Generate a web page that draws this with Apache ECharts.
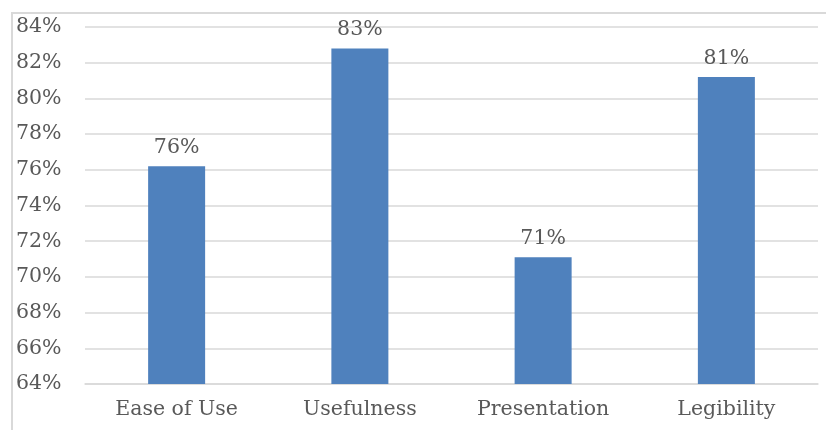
<!DOCTYPE html>
<html>
<head>
<meta charset="utf-8">
<script src="https://cdn.jsdelivr.net/npm/echarts@6/dist/echarts.min.js"></script>
<style>
	html, body { margin: 0; padding: 0; background: #fff; overflow: hidden; width: 826px; height: 430px; }
	#frame { position: absolute; left: 11px; top: 12px; width: 815px; height: 418px; border-left: 2px solid #d9d9d9; border-top: 2px solid #d9d9d9; box-sizing: border-box; }
	#chart { position: absolute; left: 0; top: 0; width: 826px; height: 430px; }
</style>
</head>
<body>
<div id="frame"></div>
<div id="chart"></div>
<script>
	// 数据
	var categories = ['Ease of Use', 'Usefulness', 'Presentation', 'Legibility'];
	var scores = [76.2, 82.8, 71.1, 81.2];
	var yTicks = [64, 66, 68, 70, 72, 74, 76, 78, 80, 82, 84];

	var textFont = 'DejaVu Serif';
	var textColor = '#595959';

	var myChart = echarts.init(document.getElementById('chart'));
	var option = {
		animation: false,
		grid: { left: 85, right: 8, top: 27, bottom: 46 },
		xAxis: {
			type: 'category',
			data: categories,
			axisLine: { lineStyle: { color: '#d9d9d9', width: 1.5 } },
			axisTick: { show: false },
			axisLabel: { color: textColor, fontFamily: textFont, fontSize: 20.5, margin: 15 }
		},
		yAxis: {
			type: 'value',
			min: yTicks[0],
			max: yTicks[yTicks.length - 1],
			interval: 2,
			axisLine: { show: false },
			axisTick: { show: false },
			splitLine: { lineStyle: { color: '#d9d9d9', width: 1.5 } },
			axisLabel: {
				color: textColor, fontFamily: textFont, fontSize: 20.5,
				align: 'left', margin: 69,
				formatter: function (v) { return v + '%'; }
			}
		},
		series: [{
			type: 'bar',
			data: scores,
			barWidth: 57,
			itemStyle: { color: '#4f81bd' },
			label: {
				show: true,
				position: 'top',
				distance: 8,
				color: textColor, fontFamily: textFont, fontSize: 20.5,
				formatter: function (p) { return Math.round(p.value) + '%'; }
			}
		}]
	};
	myChart.setOption(option, true);
</script>
</body>
</html>
